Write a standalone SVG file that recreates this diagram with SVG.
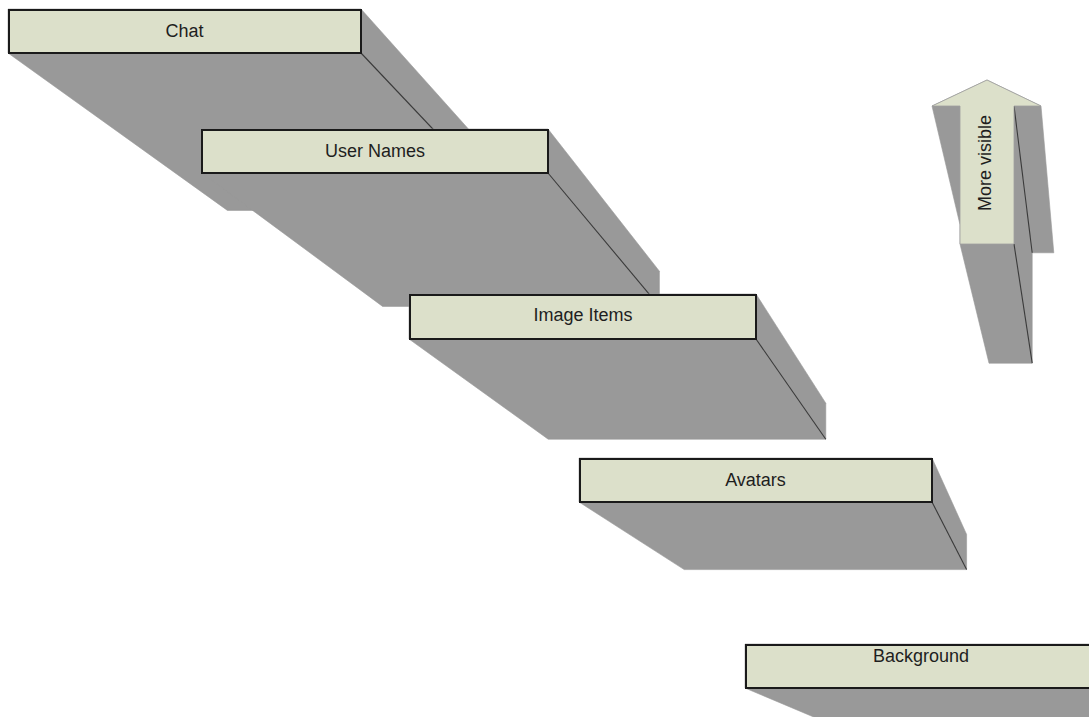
<svg xmlns="http://www.w3.org/2000/svg" width="1089" height="717" viewBox="0 0 1089 717">
  <style>
    .ext { fill: #999999; stroke: #999999; stroke-width: 0.6; stroke-linejoin: round; }
    .edge { fill: none; stroke: #3a3a3a; stroke-width: 1.1; }
    .face { fill: #dce0ca; stroke: #1a1a1a; stroke-width: 2; }
    .arrowface { fill: #dce0ca; stroke: #a0a0a0; stroke-width: 0.8; }
    .lbl { font-family: "Liberation Sans", Arial, sans-serif; font-size: 18px; fill: #1e1e1e; text-anchor: middle; }
  </style>
  <rect x="0" y="0" width="1089" height="717" fill="#ffffff"/>

  <g id="node-chat">
    <polygon class="ext" points="8,53 8,9 361,9 509.8,175.2 509.8,210.4 227.4,210.4"/>
    <line class="edge" x1="361" y1="53" x2="509.8" y2="210.4"/>
    <rect class="face" x="9" y="10" width="352" height="43"/>
    <text class="lbl" x="184.5" y="37">Chat</text>
  </g>

  <g id="node-user-names">
    <polygon class="ext" points="202,173 202,129 548,129 659.4,271.2 659.4,306.4 382.6,306.4"/>
    <line class="edge" x1="548" y1="173" x2="659.4" y2="306.4"/>
    <rect class="face" x="202" y="130" width="346" height="43"/>
    <text class="lbl" x="375" y="157">User Names</text>
  </g>

  <g id="node-image-items">
    <polygon class="ext" points="409,339 409,294 756,294 825.8,403.2 825.8,439.2 548.2,439.2"/>
    <line class="edge" x1="756" y1="339" x2="825.8" y2="439.2"/>
    <rect class="face" x="410" y="295" width="346" height="44"/>
    <text class="lbl" x="583" y="321">Image Items</text>
  </g>

  <g id="node-avatars">
    <polygon class="ext" points="579,502 579,458 932,458 966.6,534.4 966.6,569.6 684.2,569.6"/>
    <line class="edge" x1="932" y1="502" x2="966.6" y2="569.6"/>
    <rect class="face" x="580" y="459" width="352" height="43"/>
    <text class="lbl" x="755.5" y="486">Avatars</text>
  </g>

  <g id="node-background">
    <polygon class="ext" points="745,688 745,644 1097,644 1098.6,683.2 1098.6,718.4 817,718.4"/>
    <line class="edge" x1="1097" y1="688" x2="1098.6" y2="718.4"/>
    <rect class="face" x="746" y="645" width="351" height="43"/>
    <text class="lbl" x="921" y="662">Background</text>
  </g>

  <g id="legend-arrow">
    <polygon class="ext" points="932,106 960,224.8 960,244 989,363.2 1032.2,363.2 1032.2,252.8 1053.8,252.8 1041,106 987,80"/>
    <line class="edge" x1="1014" y1="106" x2="1032.2" y2="252.8"/>
    <line class="edge" x1="1014" y1="244" x2="1032.2" y2="363.2"/>
    <polygon class="arrowface" points="987,80 1041,106 1014,106 1014,244 960,244 960,106 932,106"/>
    <text class="lbl" transform="translate(991,163) rotate(-90)" x="0" y="0">More visible</text>
  </g>

  <g id="connectors"/>
</svg>
